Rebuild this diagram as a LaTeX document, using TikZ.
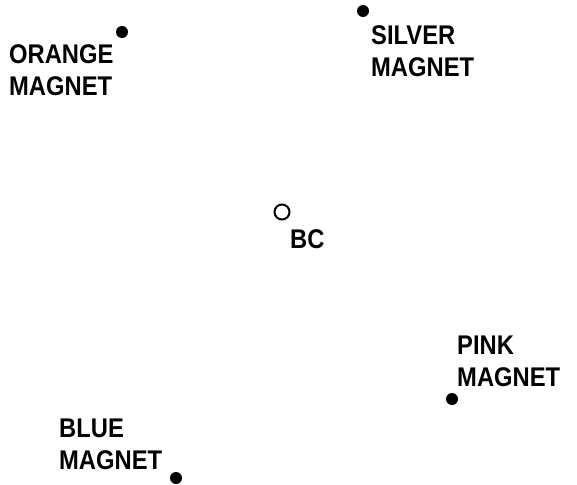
\documentclass[tikz,border=0pt]{standalone}
\usepackage{fontspec}
\setmainfont{Liberation Sans}
\newfontfamily\plotfont[FakeStretch=0.88]{Liberation Sans}
\usetikzlibrary{positioning}

\tikzset{
  magnet/.style={circle, fill=black, inner sep=0pt, minimum size=12pt},
  beamcentre/.style={circle, draw=black, line width=2pt, inner sep=0pt, minimum size=15pt},
  tag/.style={inner sep=0pt, anchor=north west, align=left,
    font=\plotfont\fontsize{27}{32}\selectfont\bfseries}
}

\begin{document}
\begin{tikzpicture}[x=1pt, y=-1pt]
\useasboundingbox (0,0) rectangle (577,484);
% magnets
\node[magnet] (orange) at (122,32) {};
\node[magnet] (silver) at (363,11) {};
\node[magnet] (pink) at (452,399) {};
\node[magnet] (blue) at (176,478) {};
\node[beamcentre] (bc) at (282,212) {};
% labels
\node[tag] (orangelbl) at (9,44) {ORANGE\\MAGNET};
\node[tag] (silverlbl) at (371,25) {SILVER\\MAGNET};
\node[tag] (bclbl) at (290,229) {BC};
\node[tag] (pinklbl) at (457,336) {PINK\\MAGNET};
\node[tag] (bluelbl) at (59,419) {BLUE\\MAGNET};
\end{tikzpicture}
\end{document}
